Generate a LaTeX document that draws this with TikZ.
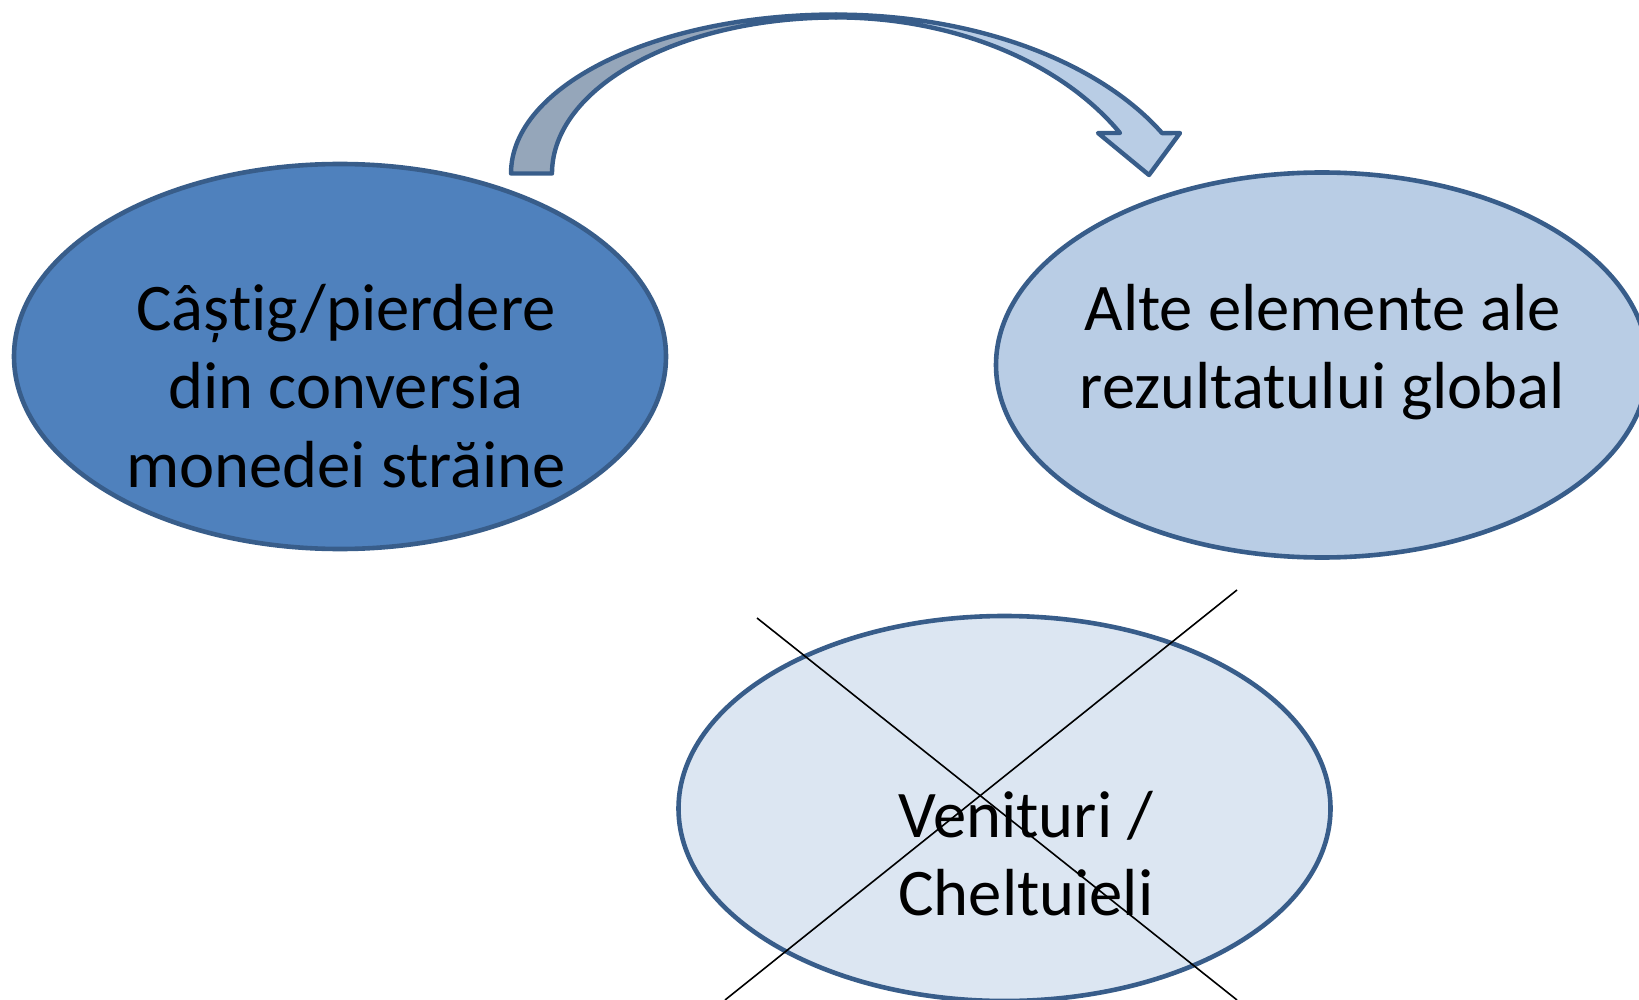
\documentclass[tikz,border=0pt]{standalone}
\usepackage{fontspec}
\setmainfont{Carlito}[RawFeature={-liga;-clig;-calt;-dlig}]
\usepackage{tikz}
\usetikzlibrary{shapes.geometric}
\usetikzlibrary{positioning}

\definecolor{rimblue}{RGB}{56,93,138}
\definecolor{darkfill}{RGB}{79,129,189}
\definecolor{midfill}{RGB}{185,205,229}
\definecolor{palefill}{RGB}{220,230,242}
\definecolor{backband}{RGB}{149,166,186}

\begin{document}
\begin{tikzpicture}[x=0.5pt,y=0.5pt,
  oval/.style={ellipse, draw=rimblue, line width=2.3pt, inner sep=0pt,
    minimum width=326pt, minimum height=192.5pt},
  lbl/.style={text width=300pt, align=flush center, anchor=base, inner sep=0pt,
    font=\fontsize{33.3pt}{39.3pt}\selectfont},
  band/.style={draw=rimblue, line width=2.2pt, line join=round},
  cross/.style={black, line width=0.8pt}]
\clip (0,0) rectangle (1639,-1000);
\node[oval, fill=darkfill] (gain) at (340,-356.5) {};
\node[oval, fill=midfill] (oci) at (1322,-365) {};
\node[oval, fill=palefill] (pl) at (1004.5,-808.5) {};
\node[lbl] (gaintxt) at (346,-330) {Câștig/pierdere\\din conversia\\monedei străine};
\node[lbl] (ocitxt) at (1322.5,-330) {Alte elemente ale\\rezultatului global};
\node[lbl] (pltxt) at (1026,-837) {Venituri /\\Cheltuieli};
\draw[band, fill=backband] (511,-173.5) arc[start angle=180, end angle=90, x radius=325, y radius=159]
  -- (836,-17.5) arc[start angle=90, end angle=180, x radius=284, y radius=156] -- cycle;
\draw[band, fill=midfill] (836,-14.6) arc[start angle=90, end angle=28.2, x radius=370, y radius=224.7]
  -- (1180,-133) -- (1149,-175) -- (1098,-133) -- (1120,-133)
  arc[start angle=30.6, end angle=90, x radius=330, y radius=235.4] -- cycle;
\coordinate (xa) at (757,-618);
\coordinate (xb) at (1237,-1000);
\coordinate (xc) at (1237,-590);
\coordinate (xd) at (725,-1000);
\draw[cross] (xa) -- (xb);
\draw[cross] (xc) -- (xd);
\end{tikzpicture}
\end{document}
